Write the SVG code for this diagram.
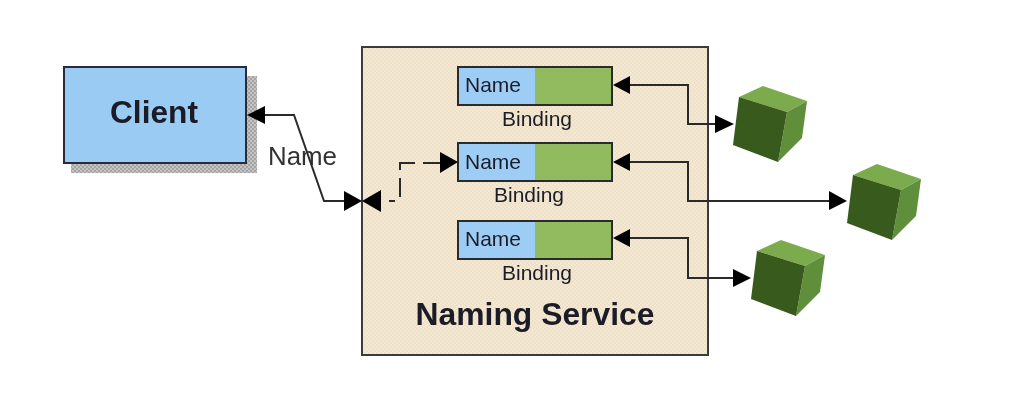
<svg xmlns="http://www.w3.org/2000/svg" width="1022" height="400" viewBox="0 0 1022 400">
<defs>
<pattern id="dots" width="4" height="4" patternUnits="userSpaceOnUse"><rect width="4" height="4" fill="#f3e8d3"/><rect width="2" height="2" fill="#eee1c8"/><rect x="2" y="2" width="2" height="2" fill="#eee1c8"/></pattern>
<pattern id="shade" width="4" height="4" patternUnits="userSpaceOnUse"><rect width="4" height="4" fill="#c4c4c4"/><rect width="2" height="2" fill="#a4a4a4"/><rect x="2" y="2" width="2" height="2" fill="#a4a4a4"/></pattern>
<filter id="soft" filterUnits="userSpaceOnUse" x="0" y="0" width="1022" height="400"><feGaussianBlur stdDeviation="0.7"/></filter>
<g id="cube"><polygon points="6,11 30,0 74,15 54,26" fill="#7cab4e"/><polygon points="54,26 74,15 69,52 45,76" fill="#5f8f3a"/><polygon points="6,11 54,26 45,76 0,59" fill="#375a1c"/></g>
</defs>
<style>
.t{font-family:"Liberation Sans",Arial,sans-serif;fill:#1c1c28}
.l{fill:none;stroke:#2b2b2b;stroke-width:2}
.a{fill:#000}
.bx{stroke:#2a2a2a;stroke-width:2}
</style>
<rect width="1022" height="400" fill="#fff"/>
<g filter="url(#soft)">
<g id="client">
<rect x="71" y="76" width="186" height="97" fill="url(#shade)"/>
<rect x="64" y="67" width="182" height="96" fill="#99cbf3" stroke="#2a2a3a" stroke-width="2"/>
<text class="t" x="154" y="123" font-size="31" font-weight="bold" text-anchor="middle" textLength="88" lengthAdjust="spacingAndGlyphs">Client</text>
</g>
<g id="naming-service">
<rect x="362" y="47" width="346" height="308" fill="url(#dots)" stroke="#3a3a3a" stroke-width="2"/>
<text class="t" x="535" y="325" font-size="32" font-weight="bold" text-anchor="middle" textLength="239" lengthAdjust="spacingAndGlyphs">Naming Service</text>
</g>
<g id="binding-1">
<rect x="458" y="67" width="77" height="38" fill="#9dcdf5"/><rect x="535" y="67" width="77" height="38" fill="#92bb60"/>
<rect class="bx" x="458" y="67" width="154" height="38" fill="none"/>
<text class="t" x="465" y="92" font-size="21" textLength="56" lengthAdjust="spacingAndGlyphs">Name</text>
<text class="t" x="537" y="126" font-size="21" text-anchor="middle" textLength="70" lengthAdjust="spacingAndGlyphs">Binding</text>
</g>
<g id="binding-2">
<rect x="458" y="143" width="77" height="38" fill="#9dcdf5"/><rect x="535" y="143" width="77" height="38" fill="#92bb60"/>
<rect class="bx" x="458" y="143" width="154" height="38" fill="none"/>
<text class="t" x="465" y="169" font-size="21" textLength="56" lengthAdjust="spacingAndGlyphs">Name</text>
<text class="t" x="529" y="202" font-size="21" text-anchor="middle" textLength="70" lengthAdjust="spacingAndGlyphs">Binding</text>
</g>
<g id="binding-3">
<rect x="458" y="221" width="77" height="38" fill="#9dcdf5"/><rect x="535" y="221" width="77" height="38" fill="#92bb60"/>
<rect class="bx" x="458" y="221" width="154" height="38" fill="none"/>
<text class="t" x="465" y="246" font-size="21" textLength="56" lengthAdjust="spacingAndGlyphs">Name</text>
<text class="t" x="537" y="280" font-size="21" text-anchor="middle" textLength="70" lengthAdjust="spacingAndGlyphs">Binding</text>
</g>
<g id="cube-1"><use href="#cube" x="733" y="86"/></g>
<g id="cube-2"><use href="#cube" x="847" y="164"/></g>
<g id="cube-3"><use href="#cube" x="751" y="240"/></g>
<text id="name-label" class="t" x="268" y="165" font-size="25" textLength="69" lengthAdjust="spacingAndGlyphs" style="fill:#333">Name</text>
<g id="connectors">
<path class="l" d="M262 115H294L324 201H345"/>
<polygon class="a" points="247,115 265,106 265,124"/>
<polygon class="a" points="362,201 344,191 344,211"/>
<polygon class="a" points="362,201 381,190 381,212"/>
<path class="l" d="M389 201H395M400 197V178M400 170V163H415M423 163H442"/>
<polygon class="a" points="458,162 440,152 440,173"/>
<path class="l" d="M628 85H688V124H716"/>
<polygon class="a" points="613,85 630,76 630,94"/>
<polygon class="a" points="734,124 715,115 715,133"/>
<path class="l" d="M628 162H688V201H830"/>
<polygon class="a" points="613,162 630,153 630,171"/>
<polygon class="a" points="847,201 829,191 829,210"/>
<path class="l" d="M628 238H688V278H734"/>
<polygon class="a" points="613,238 630,229 630,247"/>
<polygon class="a" points="751,278 733,269 733,287"/>
</g>
</g>
</svg>
